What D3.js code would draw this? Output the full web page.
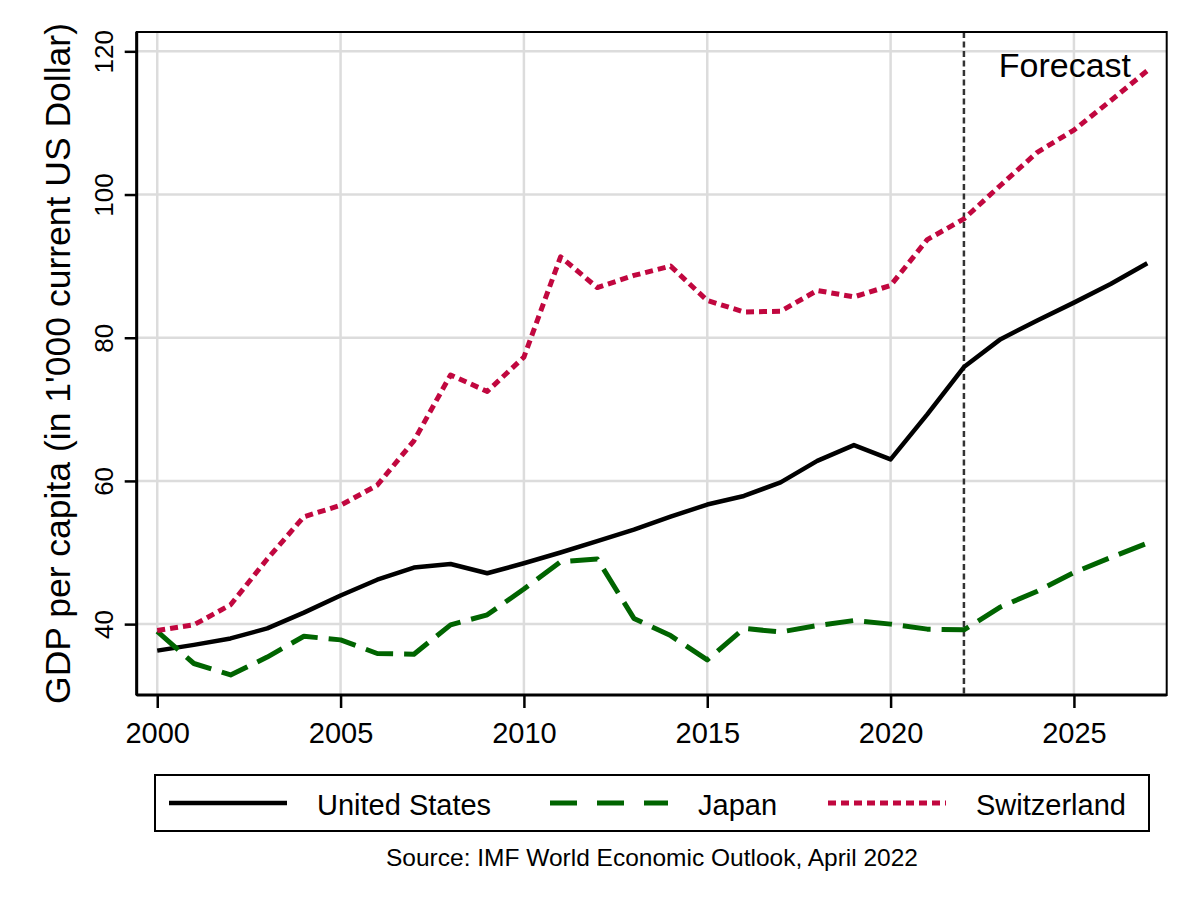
<!DOCTYPE html>
<html><head><meta charset="utf-8">
<script src="https://cdn.jsdelivr.net/npm/d3@7"></script>
<style>
body{margin:0;background:#fff}
svg{display:block}
text{font-family:Arial,"Liberation Sans",sans-serif;fill:#000}
</style>
</head><body><svg id="c" width="1200" height="900"></svg>
<script>
// ---------- data ----------
const years = [2000,2001,2002,2003,2004,2005,2006,2007,2008,2009,2010,2011,2012,2013,2014,2015,2016,2017,2018,2019,2020,2021,2022,2023,2024,2025,2026,2027];
const unitedStates = [36.3,37.1,38.0,39.4,41.6,44.0,46.2,47.9,48.4,47.1,48.5,50.0,51.6,53.2,55.0,56.7,57.9,59.8,62.8,65.0,63.0,69.3,75.9,79.8,82.4,84.9,87.5,90.4];
const japan = [39.0,34.5,32.9,35.4,38.3,37.8,35.9,35.8,39.9,41.3,44.9,48.7,49.1,40.8,38.4,35.0,39.4,38.9,39.8,40.5,40.0,39.3,39.2,42.4,44.6,47.2,49.3,51.3];
const switzerland = [39.1,39.9,42.7,49.1,55.0,56.6,59.4,65.6,74.8,72.5,77.3,91.3,87.0,88.7,90.0,85.2,83.6,83.7,86.6,85.7,87.3,93.7,96.6,101.3,105.9,109.0,113.1,117.3];
const seriesNames = ["United States","Japan","Switzerland"];
const xTicks = [2000,2005,2010,2015,2020,2025];
const yTicks = [40,60,80,100,120];
const forecastYear = 2022;
const yTitle = "GDP per capita (in 1'000 current US Dollar)";
const forecastLabel = "Forecast";
const sourceNote = "Source: IMF World Economic Outlook, April 2022";

// ---------- layout ----------
const svg = d3.select("#c");
const L = 136.7, R = 1166.7, T = 32, B = 695;
const x = d3.scaleLinear().domain([1999.44, 2027.53]).range([L, R]);
const y = d3.scaleLinear().domain([30.1, 122.7]).range([B, T]);

const styles = [
  {color:"#000000", dash:null, legendDash:null, width:4.5},
  {color:"#006400", dash:"28,11", legendDash:"27,20", width:5},
  {color:"#c1073f", dash:"8,5", legendDash:"8,5", width:5}
];
const allSeries = [unitedStates, japan, switzerland].map((vals,i)=>({
  name: seriesNames[i], values: years.map((yr,j)=>({year:yr, v:vals[j]})), style: styles[i]
}));

// gridlines
svg.append("g").selectAll("line").data(xTicks).join("line")
  .attr("x1",d=>x(d)).attr("x2",d=>x(d)).attr("y1",T).attr("y2",B)
  .attr("stroke","#dcdcdc").attr("stroke-width",2.5);
svg.append("g").selectAll("line").data(yTicks).join("line")
  .attr("x1",L).attr("x2",R).attr("y1",d=>y(d)).attr("y2",d=>y(d))
  .attr("stroke","#dcdcdc").attr("stroke-width",2.5);

// forecast line
svg.append("line").attr("x1",x(forecastYear)).attr("x2",x(forecastYear))
  .attr("y1",T).attr("y2",B).attr("stroke","#333").attr("stroke-width",2.5)
  .attr("stroke-dasharray","6,3.5");

// series lines
const line = d3.line().x(d=>x(d.year)).y(d=>y(d.v));
svg.append("g").selectAll("path").data(allSeries).join("path")
  .attr("d",d=>line(d.values)).attr("fill","none")
  .attr("stroke",d=>d.style.color).attr("stroke-width",d=>d.style.width)
  .attr("stroke-dasharray",d=>d.style.dash)
  .attr("stroke-linejoin","round");

// frame
svg.append("rect").attr("x",L).attr("y",T).attr("width",R-L).attr("height",B-T)
  .attr("fill","none").attr("stroke","#000").attr("stroke-width",2);

// axes
const FF = 'Arial,"Liberation Sans",sans-serif';
const xAxis = d3.axisBottom(x).tickValues(xTicks).tickSize(13).tickPadding(14).tickFormat(d3.format("d"));
const gx = svg.append("g").attr("transform",`translate(0,${B})`).call(xAxis);
gx.select(".domain").attr("stroke","#000").attr("stroke-width",3).attr("d",`M${L},0H${R}`);
gx.selectAll(".tick line").attr("stroke","#000").attr("stroke-width",2.5);
gx.selectAll(".tick text").attr("fill","#000").attr("font-size",29).attr("font-family",FF);

const yAxis = d3.axisLeft(y).tickValues(yTicks).tickSize(12).tickFormat(d3.format("d"));
const gy = svg.append("g").attr("transform",`translate(${L},0)`).call(yAxis);
gy.select(".domain").attr("stroke","#000").attr("stroke-width",3).attr("d",`M0,${T}V${B}`);
gy.selectAll(".tick line").attr("stroke","#000").attr("stroke-width",2.5);
gy.selectAll(".tick text")
  .attr("fill","#000").attr("font-size",26).attr("font-family",FF)
  .attr("x",null).attr("dy",null)
  .attr("text-anchor","middle")
  .attr("transform","translate(-24,0) rotate(-90)");

// y title
svg.append("text").attr("transform",`translate(70,${(T+B)/2}) rotate(-90)`)
  .attr("text-anchor","middle").attr("font-size",35.5).text(yTitle);

// forecast label
svg.append("text").attr("x",1131).attr("y",77).attr("text-anchor","end")
  .attr("font-size",34).text(forecastLabel);

// legend
const lg = svg.append("g");
lg.append("rect").attr("x",155).attr("y",775).attr("width",994).attr("height",56)
  .attr("fill","#fff").attr("stroke","#000").attr("stroke-width",2);
const legendX = [169, 550, 828];
const items = lg.selectAll("g").data(allSeries).join("g")
  .attr("transform",(d,i)=>`translate(${legendX[i]},803)`);
items.append("line").attr("x1",0).attr("x2",118).attr("y1",0).attr("y2",0)
  .attr("stroke",d=>d.style.color).attr("stroke-width",d=>d.style.width)
  .attr("stroke-dasharray",d=>d.style.legendDash);
items.append("text").attr("x",148).attr("y",12).attr("font-size",29).text(d=>d.name);

// source
svg.append("text").attr("x",652).attr("y",866).attr("text-anchor","middle")
  .attr("font-size",24.5).text(sourceNote);
</script>
</body></html>
